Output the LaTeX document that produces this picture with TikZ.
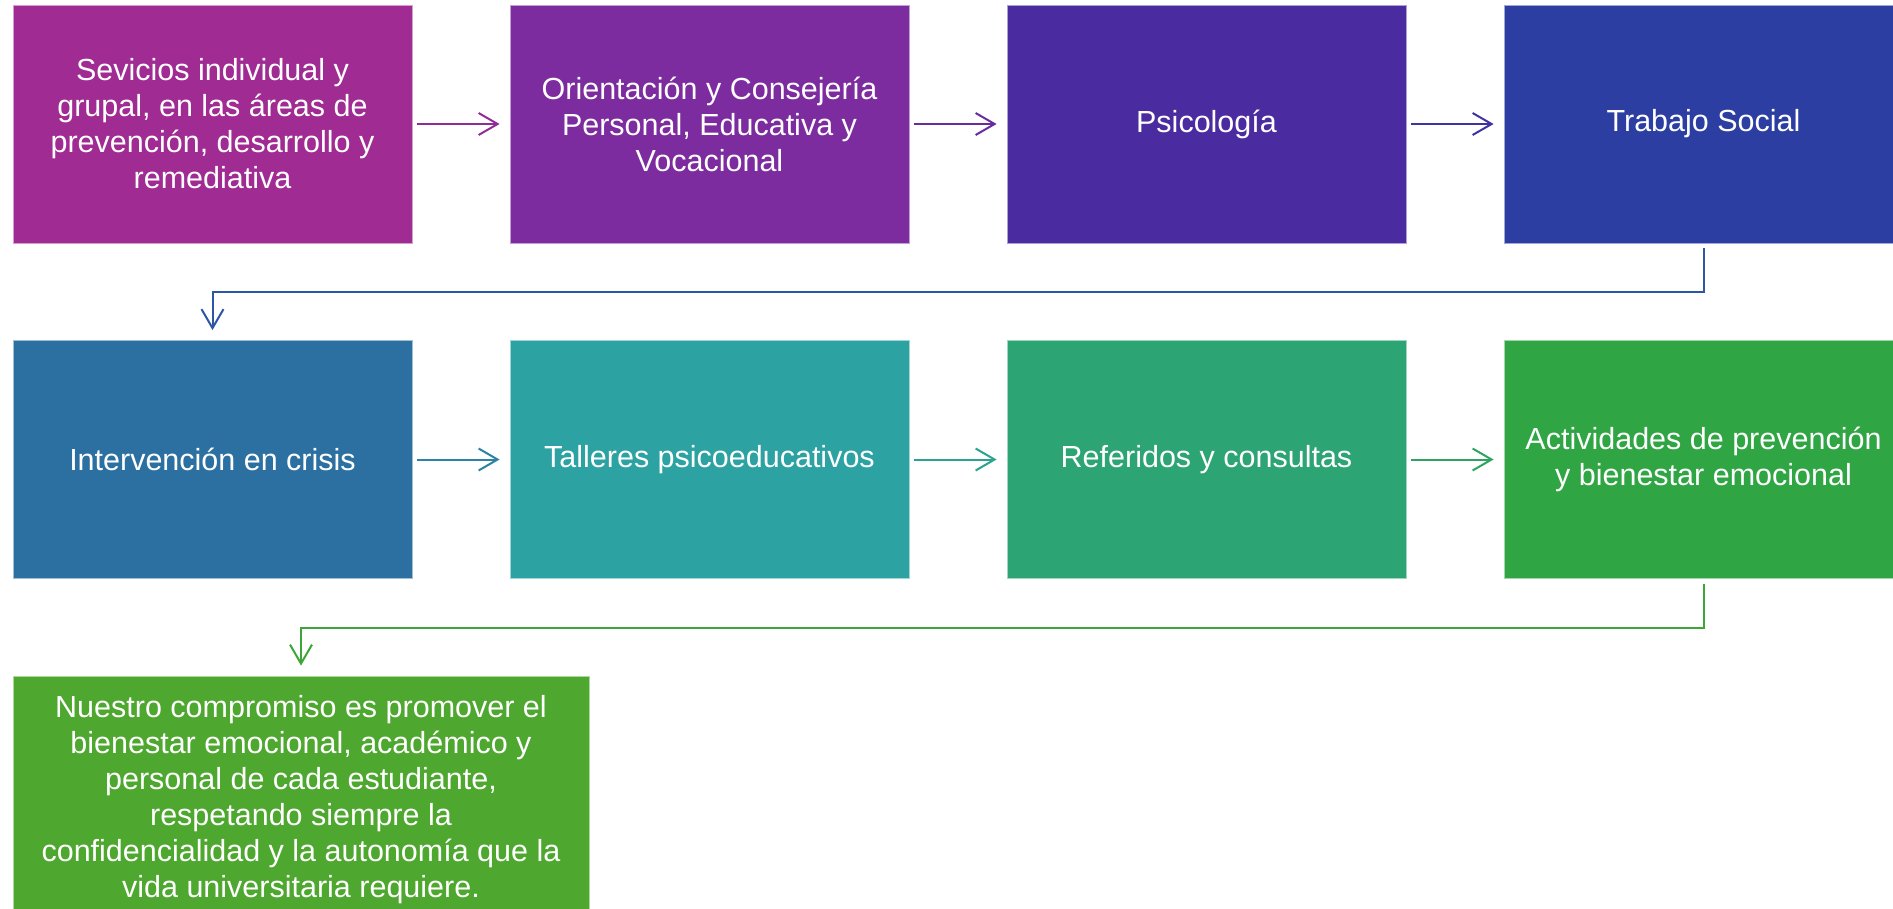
\documentclass[tikz,border=0pt]{standalone}
\usepackage{fontspec}
\setmainfont{Liberation Sans}
\usetikzlibrary{arrows.meta}
\definecolor{c1}{HTML}{A02B93}
\definecolor{c2}{HTML}{7D2C9F}
\definecolor{c3}{HTML}{4B2CA0}
\definecolor{c4}{HTML}{2C3EA2}
\definecolor{c5}{HTML}{2C70A2}
\definecolor{c6}{HTML}{2CA3A2}
\definecolor{c7}{HTML}{2DA474}
\definecolor{c8}{HTML}{2FA543}
\definecolor{c9}{HTML}{4EA72E}
\tikzset{
  pbox/.style={fill=#1, draw=white!55!#1, line width=0.8pt, minimum width=399pt, minimum height=238pt,
    inner sep=0pt, text=white, align=center, font=\fontsize{30.5}{36}\selectfont},
  conn/.style={draw=#1, line width=2pt, -{Straight Barb[length=19pt,width=22pt,line width=2pt]}},
}
\begin{document}
\begin{tikzpicture}[x=1pt,y=1pt]
\useasboundingbox (0,0) rectangle (1893,-908);
\node[pbox=c1] (b1) at (212.5,-124) {Sevicios individual y\\grupal, en las áreas de\\prevención, desarrollo y\\remediativa};
\node[pbox=c2] (b2) at (709.5,-124) {Orientación y Consejería\\Personal, Educativa y\\Vocacional};
\node[pbox=c3] (b3) at (1206.5,-124) {Psicología};
\node[pbox=c4] (b4) at (1703.5,-124) {Trabajo Social};
\node[pbox=c5] (b5) at (212.5,-459.5) {Intervención en crisis};
\node[pbox=c6] (b6) at (709.5,-459.5) {Talleres psicoeducativos};
\node[pbox=c7] (b7) at (1206.5,-459.5) {Referidos y consultas};
\node[pbox=c8] (b8) at (1703.5,-459.5) {Actividades de prevención\\y bienestar emocional};
\node[pbox=c9, minimum width=576pt, minimum height=248pt] (b9) at (301,-800) {Nuestro compromiso es promover el\\bienestar emocional, académico y\\personal de cada estudiante,\\respetando siempre la\\confidencialidad y la autonomía que la\\vida universitaria requiere.};
\draw[conn=c1!60!c2] ([xshift=5pt]b1.east) -- ([xshift=-10pt]b2.west);
\draw[conn=c2!60!c3] ([xshift=5pt]b2.east) -- ([xshift=-10pt]b3.west);
\draw[conn=c3!60!c4] ([xshift=5pt]b3.east) -- ([xshift=-10pt]b4.west);
\draw[conn=c4!50!c5] ([yshift=-5pt]b4.south) -- ++(0,-44) -| ([yshift=10pt]b5.north);
\draw[conn=c5!60!c6] ([xshift=5pt]b5.east) -- ([xshift=-10pt]b6.west);
\draw[conn=c6!60!c7] ([xshift=5pt]b6.east) -- ([xshift=-10pt]b7.west);
\draw[conn=c7!60!c8] ([xshift=5pt]b7.east) -- ([xshift=-10pt]b8.west);
\draw[conn=c8!50!c9] ([yshift=-5pt]b8.south) -- ++(0,-44) -| ([yshift=10pt]b9.north);
\end{tikzpicture}
\end{document}
